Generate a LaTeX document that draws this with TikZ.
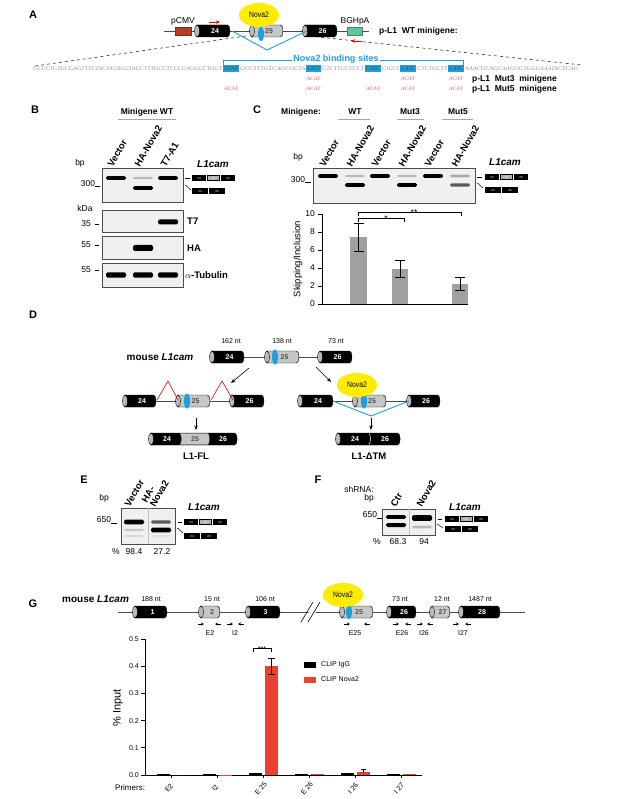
\documentclass[tikz,border=0pt]{standalone}
\usepackage{fontspec}
\setmainfont{Liberation Sans}
\newfontfamily\seqfont{Liberation Serif}
\usepackage{graphicx}
\usetikzlibrary{shapes.geometric,arrows.meta}

\definecolor{novablue}{RGB}{28,160,222}
\definecolor{novayellow}{RGB}{255,236,0}
\definecolor{pcmvred}{RGB}{180,62,38}
\definecolor{bghgreen}{RGB}{96,196,156}
\definecolor{acatred}{RGB}{232,92,104}
\definecolor{barred}{RGB}{234,66,46}
\definecolor{bargray}{RGB}{160,160,160}

\tikzset{
  panel/.style={font=\bfseries\fontsize{11}{11}\selectfont, inner sep=0},
  txt/.style={font=\fontsize{8.5}{9}\selectfont, inner sep=0},
  small/.style={font=\fontsize{7}{7}\selectfont, inner sep=0},
  btxt/.style={font=\bfseries\fontsize{8.5}{9}\selectfont, inner sep=0},
  ptxt/.style={font=\bfseries\fontsize{9.5}{10}\selectfont, inner sep=0},
  gname/.style={font=\bfseries\itshape\fontsize{10}{10}\selectfont, inner sep=0},
  gtitle/.style={font=\bfseries\fontsize{10}{10}\selectfont, inner sep=0},
  lane/.style={font=\bfseries\fontsize{9.5}{9.5}\selectfont, inner sep=0, rotate=60, anchor=west},
  gene/.style={draw=black!70, line width=0.9pt},
  gel/.style={fill=gray!12, draw=gray!60!black, line width=0.8pt},
  exnum/.style={font=\bfseries\fontsize{7}{7}\selectfont, inner sep=0},
  sptxt/.style={text=white, font=\fontsize{3}{3}\selectfont, inner sep=0},
  nova/.style={ellipse, fill=novayellow, inner sep=0, minimum width=40pt, minimum height=24pt, font=\fontsize{8}{8}\selectfont},
  bluel/.style={draw=novablue, line width=0.9pt},
  redl/.style={draw=red!85!black, line width=0.6pt},
  redarrow/.style={draw=red, line width=0.9pt, -{Stealth[length=4pt,width=3.5pt]}},
  darrow/.style={draw=black, line width=0.6pt, -{Stealth[length=4.5pt,width=3.5pt]}},
  parrow/.style={draw=black, line width=0.6pt, -{Stealth[length=3pt,width=3pt]}},
  seqline/.style={draw=black!80, line width=0.6pt, dashed},
  axis/.style={draw=black, line width=0.8pt},
}

% exon cylinder (x1:x2:y)[fill][text colour]{number}
\def\exon(#1:#2:#3)[#4][#5]#6{%
  \draw[line width=0.4pt, fill=#4] (#1,#3-6) -- (#2-2.5,#3-6) .. controls (#2+0.8,#3-6) and (#2+0.8,#3+6) .. (#2-2.5,#3+6) -- (#1,#3+6) -- cycle;
  \draw[line width=0.4pt, fill=gray!55] (#1,#3) ellipse (2.4 and 6);
  \node[exnum, text=#5] at ({(#1+#2)/2+1.5},#3) {#6};}
\def\blob(#1,#2)#3{\fill[novablue] (#1,#2) ellipse (3 and #3);}
% isoform sketches beside the gels
\def\isoFL(#1,#2){%
  \fill[black] (#1,#2-2.8) rectangle (#1+43,#2+2.8);
  \fill[gray!60] (#1+16,#2-2) rectangle (#1+27,#2+2);
  \draw[white, line width=0.4pt] (#1+14.5,#2-2.8) -- (#1+14.5,#2+2.8) (#1+28.5,#2-2.8) -- (#1+28.5,#2+2.8);
  \node[sptxt] at (#1+7,#2) {24};
  \node[sptxt] at (#1+21.5,#2) {25};
  \node[sptxt] at (#1+36,#2) {26};}
\def\isoTM(#1,#2){%
  \fill[black] (#1,#2-2.8) rectangle (#1+33,#2+2.8);
  \draw[white, line width=0.4pt] (#1+16.5,#2-2.8) -- (#1+16.5,#2+2.8);
  \node[sptxt] at (#1+8,#2) {24};
  \node[sptxt] at (#1+25,#2) {26};}
\def\band(#1,#2)[#3]#4{\fill[#3, rounded corners=1.5pt] (#1-10,#2-#4) rectangle (#1+10,#2+#4);}
\def\seqpart(#1,#2)[#3]#4#5{\node[inner sep=0, anchor=west, text=#3] at (#1,#2) {\resizebox{#4pt}{3.6pt}{\seqfont\itshape #5}};}
\def\acat(#1,#2){\node[inner sep=0, text=acatred] at (#1,#2) {\resizebox{14pt}{3.4pt}{\seqfont\itshape ACAT}};}

\begin{document}
\begin{tikzpicture}[x=1pt, y=-1pt]
			\useasboundingbox (0,0) rectangle (617,799);
			\fill[white] (0,0) rectangle (617,799);
			
			%%%%% PANEL A %%%%%
			\node[panel] (pA) at (33,15) {A};
			\draw[seqline] (246,36) -- (35,66);
			\draw[seqline] (309,36) -- (582,65);
			\draw[gene] (164,31) -- (369,31);
			\draw[fill=pcmvred, draw=pcmvred!70!black, line width=0.3pt] (175,27) rectangle (191,35);
			\node[txt] (pcmv) at (183,21) {pCMV};
			\draw[fill=bghgreen, draw=bghgreen!70!black, line width=0.3pt] (347,27) rectangle (362,35);
			\node[txt] (bgh) at (355,21) {BGHpA};
			\coordinate (fwA1) at (209,22);
			\coordinate (fwA2) at (220,22);
			\coordinate (rvA1) at (362,41);
			\coordinate (rvA2) at (351,41);
			\draw[redarrow] (fwA1) -- (fwA2);
			\draw[redarrow] (rvA1) -- (rvA2);
			
			\exon(197:230:31)[black][white]{24}
			\exon(252:283:31)[gray!45][black!70]{25}
			\blob(261,34){7}
			\exon(305:337:31)[black][white]{26}
			\node[nova] (novaA) at (259,15) {\scalebox{0.85}[1]{Nova2}};
			\coordinate (vA1) at (232,31);
			\coordinate (vA2) at (267,50);
			\coordinate (vA3) at (307,31);
			\draw[bluel] (vA1) -- (vA2) -- (vA3);
			\node[btxt, anchor=west] (wtA) at (379,31) {p-L1\ \ WT minigene:};
			
			\draw[bluel] (223,65) -- (223,60) -- (463,60) -- (463,65);
			\node[font=\bfseries\fontsize{9}{9}\selectfont, text=novablue, fill=white, inner sep=1pt] (bindA) at (336,59) {Nova2 binding sites};
			\foreach \a/\b in {223/239, 306/321, 365/381, 400/416, 448/464}
				\fill[novablue] (\a,65.5) rectangle (\b,72.5);
			\seqpart(33,69)[gray!85]{189}{GCCCTGTGCGAGTTTCTACTACAGGTAGCTTTGCCTCCCGAGGGCTGGT}
			\seqpart(224,69)[black!75]{14}{TCAT}
			\seqpart(240,69)[gray!85]{65}{GCCTTTGTCAGCGCTA}
			\seqpart(307,69)[black!75]{13}{CATT}
			\seqpart(322,69)[gray!85]{42}{CTCTTGCTCCT}
			\seqpart(366,69)[black!75]{14}{CATC}
			\seqpart(382,69)[gray!85]{17}{CTGCT}
			\seqpart(401,69)[black!75]{14}{CATC}
			\seqpart(417,69)[gray!85]{30}{CTCTGCTT}
			\seqpart(449,69)[black!75]{14}{CATC}
			\seqpart(465,69)[gray!85]{113}{AAACGCAGCAAGGGTGGCAAATACTCAG}
			\foreach \x in {313.5,408,456} {\acat(\x,79)}
			\foreach \x in {231,313.5,373,408,456} {\acat(\x,89)}
			\node[btxt, anchor=west] (mut3) at (472,79) {p-L1\ \ Mut3\ \ minigene};
			\node[btxt, anchor=west] (mut5) at (472,89) {p-L1\ \ Mut5\ \ minigene};
			
			%%%%% PANEL B %%%%%
			\node[panel] (pB) at (35,110) {B};
			\node[btxt] (mgB) at (147,112) {Minigene WT};
			\draw[gray!70, line width=0.9pt] (118,119.5) -- (176,119.5);
			\node[lane] (lB1) at (110,166) {Vector};
			\node[lane] (lB2) at (137,166) {HA-Nova2};
			\node[lane] (lB3) at (163,166) {T7-A1};
			\node[txt] (bpB) at (80,163) {bp};
			\node[gname] (gB) at (213,164) {L1cam};
			\draw[gel] (102,168) rectangle (183,202);
			\band(116,178)[black]{1.8}
			\band(143,178)[gray!55]{1.2}
			\band(143,188)[black]{1.8}
			\band(168,178)[black]{1.8}
			\node[txt] (s300B) at (88,184) {300};
			\draw[line width=0.6pt] (95,186.5) -- (100,186.5);
			\draw[line width=0.6pt] (185,178) -- (190,178);
			\isoFL(192,178)
			\draw[line width=0.5pt] (185,185) .. controls (187,185) and (188,189) .. (191,190);
			\isoTM(192,191)
			
			\node[txt] (kdaB) at (85,208) {kDa};
			\draw[gel] (102,210) rectangle (183,232);
			\band(168,222)[black]{2.5}
			\node[txt] (s35B) at (86,224) {35};
			\draw[line width=0.6pt] (95,224) -- (99,224);
			\node[ptxt, anchor=west] (t7B) at (187,221) {T7};
			
			\draw[gel] (102,236) rectangle (183,259);
			\band(143,248)[black]{3}
			\node[txt] (s55B) at (86,245) {55};
			\draw[line width=0.6pt] (95,245) -- (99,245);
			\node[ptxt, anchor=west] (haB) at (187,248) {HA};
			
			\draw[gel] (102,263) rectangle (183,287);
			\foreach \x in {116,143,168} {\band(\x,275)[black]{2.6}}
			\node[txt] (s55tB) at (86,270) {55};
			\draw[line width=0.6pt] (95,270) -- (99,270);
			\node[ptxt, anchor=west] (tubB) at (185,275) {$\alpha$-Tubulin};
			
			%%%%% PANEL C %%%%%
			\node[panel] (pC) at (257,110) {C};
			\node[btxt] (mgC) at (301,112) {Minigene:};
			\node[btxt] (wtC) at (355,112) {WT};
			\node[btxt] (m3C) at (410,112) {Mut3};
			\node[btxt] (m5C) at (458,112) {Mut5};
			\draw[gray!70, line width=0.9pt] (338,119.5) -- (370,119.5) (397,119.5) -- (424,119.5) (442,119.5) -- (473,119.5);
			\foreach \x/\t [count=\i] in {328/Vector, 355/HA-Nova2, 380/Vector, 407/HA-Nova2, 433/Vector, 460/HA-Nova2}
				\node[lane] (lC\i) at (\x-6,166) {\t};
			\node[txt] (bpC) at (298,157) {bp};
			\node[gname] (gC) at (505,162) {L1cam};
			\draw[gel] (313,168) rectangle (475,203);
			\foreach \x in {328,380,433} {\band(\x,176)[black]{1.8}}
			\foreach \x in {355,407} {\band(\x,176)[gray!55]{1.2} \band(\x,185)[black]{1.8}}
			\band(460,176)[gray!65]{1.4}
			\band(460,185)[gray!70!black]{1.6}
			\node[txt] (s300C) at (298,180) {300};
			\draw[line width=0.6pt] (305,182.5) -- (311,182.5);
			\draw[line width=0.6pt] (477,177) -- (482,177);
			\isoFL(485,177)
			\draw[line width=0.5pt] (477,183) .. controls (479,183) and (480,187) .. (483,188);
			\isoTM(485,190)
			
			\draw[axis] (322,214) -- (322,304) -- (468,304);
			\foreach \v in {0,2,...,10} {
				\draw[axis] (318,{304-9*\v}) -- (322,{304-9*\v});
				\node[txt, anchor=east] (tC\v) at (315,{304-9*\v}) {\v};
			}
			\node[font=\fontsize{9.5}{10}\selectfont, rotate=90, inner sep=0] (yC) at (298,259) {Skipping/Inclusion};
			\foreach \xa/\xb/\m/\e in {350/367/7.4/1.55, 392/408/3.9/0.9, 452/468/2.25/0.75} {
				\fill[bargray] (\xa,304) rectangle (\xb,{304-9*\m});
				\draw[line width=0.8pt] ({(\xa+\xb)/2},{304-9*(\m-\e)}) -- ({(\xa+\xb)/2},{304-9*(\m+\e)});
				\draw[line width=0.8pt] ({(\xa+\xb)/2-5},{304-9*(\m-\e)}) -- ({(\xa+\xb)/2+5},{304-9*(\m-\e)});
				\draw[line width=0.8pt] ({(\xa+\xb)/2-5},{304-9*(\m+\e)}) -- ({(\xa+\xb)/2+5},{304-9*(\m+\e)});
			}
			\draw[line width=0.6pt] (358,222) -- (358,218.5) -- (404,218.5) -- (404,222);
			\node[txt, anchor=base] (sig1C) at (386,221.5) {*};
			\draw[line width=0.6pt] (358,216) -- (358,212.5) -- (461,212.5) -- (461,216);
			\node[txt, anchor=base] (sig2C) at (414,215.5) {**};
			
			%%%%% PANEL D %%%%%
			\node[panel] (pD) at (33,315) {D};
			\node[gtitle] (mD) at (160,357) {mouse \textit{L1cam}};
			\draw[gene] (230,357) -- (336,357);
			\exon(212:244:357)[black][white]{24}
			\exon(267:299:357)[gray!45][black!70]{25}
			\blob(275,357){7.5}
			\exon(320:352:357)[black][white]{26}
			\node[small] (ntD1) at (231,341) {162 nt};
			\node[small] (ntD2) at (282,341) {138 nt};
			\node[small] (ntD3) at (336,341) {73 nt};
			\coordinate (dA1) at (249,368);
			\coordinate (dA2) at (231,383);
			\coordinate (dB1) at (316,367);
			\coordinate (dB2) at (331,382);
			\draw[darrow] (dA1) -- (dA2);
			\draw[darrow] (dB1) -- (dB2);
			
			\draw[gene] (140,401) -- (250,401);
			\exon(125:156:401)[black][white]{24}
			\exon(178:210:401)[gray!45][black!70]{25}
			\blob(187,401){7.5}
			\exon(232:264:401)[black][white]{26}
			\draw[redl] (157,400) -- (168,381) -- (178,400);
			\draw[redl] (211,400) -- (222,381) -- (233,400);
			\coordinate (dC1) at (196,418);
			\coordinate (dC2) at (196,430);
			\draw[darrow] (dC1) -- (dC2);
			\draw[line width=0.4pt, fill=black] (151,433) -- (234.5,433) .. controls (238,433) and (238,445) .. (234.5,445) -- (151,445) -- cycle;
			\fill[gray!45] (180,433.4) .. controls (182,435) and (182,443) .. (180,444.6) -- (208,444.6) .. controls (210,443) and (210,435) .. (208,433.4) -- cycle;
			\draw[line width=0.4pt, fill=gray!55] (151,439) ellipse (2.4 and 6);
			\node[exnum, text=white] (fl24) at (167,439) {24};
			\node[exnum, text=black!70] (fl25) at (195,439) {25};
			\node[exnum, text=white] (fl26) at (223,439) {26};
			\node[ptxt] (flD) at (196,456) {L1-FL};
			
			\draw[gene] (315,401) -- (425,401);
			\exon(300:333:401)[black][white]{24}
			\exon(355:386:401)[gray!45][black!70]{25}
			\blob(364,401){7.5}
			\exon(409:440:401)[black][white]{26}
			\node[nova] (novaD) at (357,385) {\scalebox{0.85}[1]{Nova2}};
			\coordinate (vD1) at (333,401);
			\coordinate (vD2) at (371,416);
			\coordinate (vD3) at (409,401);
			\draw[bluel] (vD1) -- (vD2) -- (vD3);
			\coordinate (dD1) at (371,418);
			\coordinate (dD2) at (371,430);
			\draw[darrow] (dD1) -- (dD2);
			\draw[line width=0.4pt, fill=black] (338,433) -- (397.5,433) .. controls (401,433) and (401,445) .. (397.5,445) -- (338,445) -- cycle;
			\draw[white, line width=0.5pt] (369,433.5) .. controls (371,436) and (371,442) .. (369,444.5);
			\draw[line width=0.4pt, fill=gray!55] (338,439) ellipse (2.4 and 6);
			\node[exnum, text=white] (tm24) at (355,439) {24};
			\node[exnum, text=white] (tm26) at (385,439) {26};
			\node[ptxt] (tmD) at (369,456) {L1-ΔTM};
			
			%%%%% PANEL E %%%%%
			\node[panel] (pE) at (84,480) {E};
			\node[lane] (lE1) at (127,506) {Vector};
			\node[lane, align=left] (lE2) at (148,504) {HA-\\Nova2};
			\node[txt] (bpE) at (104,498) {bp};
			\node[gname] (gE) at (204,507) {L1cam};
			\draw[gel] (121,508) rectangle (175,544);
			\draw[gray!50, line width=0.5pt] (148,508) -- (148,544);
			\band(134,522)[black]{2.3}
			\band(134,530)[gray!45]{1.2}
			\band(134,536)[gray!30]{1}
			\band(161,522)[gray!70!black]{1.6}
			\band(161,530)[black]{2.3}
			\band(161,536)[gray!25]{1}
			\node[txt] (s650E) at (104,520) {650};
			\draw[line width=0.6pt] (111,523) -- (117,523);
			\draw[line width=0.6pt] (178,522) -- (182,522);
			\isoFL(184,522)
			\draw[line width=0.5pt] (177,528) .. controls (179,528) and (180,532) .. (183,533);
			\isoTM(184,536)
			\node[txt] (pcE) at (116,552) {\%};
			\node[txt] (vE1) at (134,552) {98.4};
			\node[txt] (vE2) at (162,552) {27.2};
			
			%%%%% PANEL F %%%%%
			\node[panel] (pF) at (318,480) {F};
			\node[txt] (shF) at (359,489) {shRNA:};
			\node[txt] (bpF) at (369,498) {bp};
			\node[lane] (lF1) at (393,506) {Ctr};
			\node[lane] (lF2) at (419,506) {Nova2};
			\node[gname] (gF) at (465,507) {L1cam};
			\draw[gel] (382,509) rectangle (435,535);
			\draw[gray!50, line width=0.5pt] (409,509) -- (409,535);
			\band(396,517)[black]{1.8}
			\band(396,525)[black]{2}
			\band(422,518)[black]{2.8}
			\band(422,527)[gray!55]{1.4}
			\node[txt] (s650F) at (370,515) {650};
			\draw[line width=0.6pt] (377,518) -- (382,518);
			\draw[line width=0.6pt] (438,519) -- (442,519);
			\isoFL(445,519)
			\draw[line width=0.5pt] (437,524) .. controls (439,524) and (440,527) .. (443,528);
			\isoTM(445,529)
			\node[txt] (pcF) at (377,542) {\%};
			\node[txt] (vF1) at (398,542) {68.3};
			\node[txt] (vF2) at (424,542) {94};
			
			%%%%% PANEL G %%%%%
			\node[panel] (pG) at (33,604) {G};
			\node[gtitle, anchor=west] (mG) at (62,599) {mouse \textit{L1cam}};
			\draw[gene] (118,612) -- (525,612);
			\fill[white] (303,621) -- (315,603) -- (322,603) -- (310,621) -- cycle;
			\draw[line width=0.6pt] (301,622) -- (313,602) (308,622) -- (320,602);
			\exon(135:167:612)[black][white]{1}
			\exon(201:220:612)[gray!45][black!70]{2}
			\exon(248:280:612)[black][white]{3}
			\exon(342:373:612)[gray!45][black!70]{25}
			\blob(349,612){7}
			\exon(389:416:612)[black][white]{26}
			\exon(432:450:612)[gray!45][black!70]{27}
			\exon(461:500:612)[black][white]{28}
			\node[nova] (novaG) at (343,595) {\scalebox{0.85}[1]{Nova2}};
			\foreach \x/\t [count=\i] in {151/188 nt, 212/15 nt, 265/106 nt, 400/73 nt, 442/12 nt, 480/1487 nt}
				\node[small] (ntG\i) at (\x,599) {\t};
			\foreach \a/\b in {198/221, 227/244, 344/370, 393/411, 417/433, 453/471} {
				\draw[parrow] (\a,624) -- +(6,0);
				\draw[parrow] (\b,624) -- +(-6,0);
			}
			\foreach \x/\t [count=\i] in {210/E2, 235/I2, 355/E25, 402/E26, 424/I26, 463/I27}
				\node[small] (prG\i) at (\x,633) {\t};
			
			\draw[axis] (145,639) -- (145,775) -- (422,775);
			\foreach \k in {0,...,5} {
				\draw[axis] (141,{775-27.2*\k}) -- (145,{775-27.2*\k});
				\node[small, anchor=east] (tG\k) at (139,{775-27.2*\k}) {0.\k};
			}
			\node[font=\fontsize{11}{11}\selectfont, rotate=90, inner sep=0] (yG) at (118,708) {\% Input};
			\foreach \c/\hk/\hr in {171/0.8/0, 217/0.6/0.5, 263/1.8/108.8, 309/1.2/1, 355/2.5/3.5, 401/0.7/0.8} {
				\fill[black] ({\c-14},775) rectangle ({\c-1},{775-\hk});
				\fill[barred] ({\c+2},775) rectangle ({\c+15},{775-\hr});
				\draw[axis] (\c,775) -- (\c,778);
			}
			\draw[line width=0.7pt] (271.5,658) -- (271.5,674.4) (268,658) -- (275,658) (268,674.4) -- (275,674.4);
			\draw[line width=0.6pt] (363.5,769) -- (363.5,773) (361,769) -- (366,769);
			\draw[line width=0.6pt] (253,652) -- (253,648) -- (271,648) -- (271,652);
			\node[small, anchor=base] (sigG) at (262,651.5) {***};
			\fill[black] (304,662) rectangle (316,667.5);
			\node[small, anchor=west] (lgG1) at (321,664.5) {CLIP IgG};
			\fill[barred] (304,677) rectangle (316,682.5);
			\node[small, anchor=west] (lgG2) at (321,679.5) {CLIP Nova2};
			\node[font=\fontsize{8}{8}\selectfont, inner sep=0, anchor=west] (prim) at (115,788) {Primers:};
			\foreach \c/\t [count=\i] in {171/E2, 217/I2, 263/E 25, 309/E 26, 355/I 26, 401/I 27}
				\node[small, rotate=50] (xG\i) at (\c-2,788) {\t};
			
			%%%%% END %%%%%
\end{tikzpicture}
\end{document}
